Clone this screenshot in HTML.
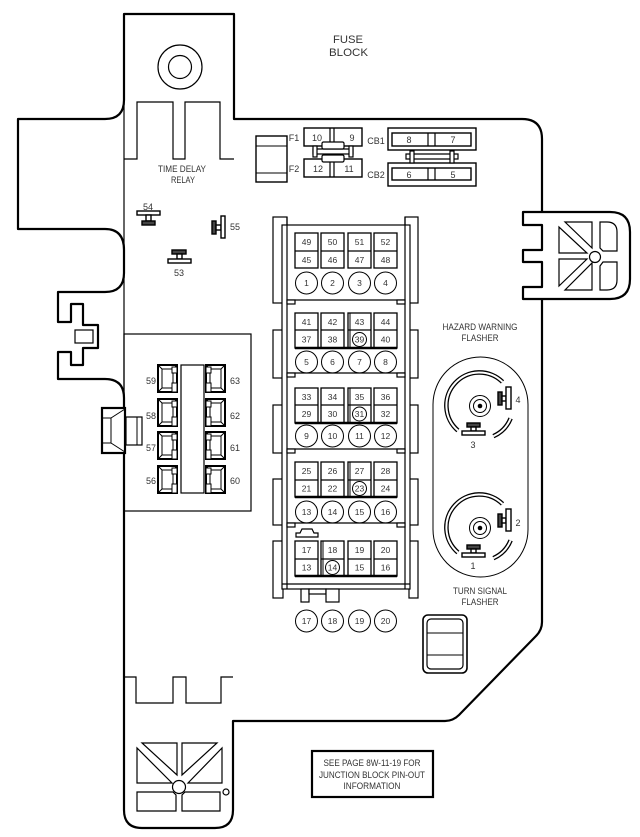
<!DOCTYPE html>
<html><head><meta charset="utf-8"><style>
html,body{margin:0;padding:0;background:#fff;}
svg{display:block;}
text{font-family:"Liberation Sans",sans-serif;fill:#333;}
</style></head><body>
<svg width="640" height="837" viewBox="0 0 640 837" xmlns="http://www.w3.org/2000/svg">
<defs>
<g id="sk" fill="#fff" stroke="#000">
<rect x="0" y="0" width="19" height="27" stroke-width="2"/>
<rect x="4" y="4" width="11" height="19" stroke-width="1"/>
<path d="M0,0L4,4M19,0L15,4M0,27L4,23M19,27L15,23" stroke-width="1"/>
</g>
<g id="skL"><use href="#sk"/><rect x="14" y="18" width="5" height="9" fill="#fff" stroke="#000" stroke-width="1"/><rect x="14" y="2" width="5" height="6" fill="#fff" stroke="#000" stroke-width="1"/></g>
<g id="skR"><use href="#sk"/><rect x="0" y="18" width="5" height="9" fill="#fff" stroke="#000" stroke-width="1"/><rect x="0" y="2" width="5" height="6" fill="#fff" stroke="#000" stroke-width="1"/></g>
</defs>

<!-- main heavy outline -->
<g fill="none" stroke="#000" stroke-width="2.2" stroke-linejoin="round">
<path d="M124,100 V14 H234 V119 H522 Q542,119 542,139 V212"/>
<path d="M542,299 V622 Q542,630 536,636 L459,715 Q453,721 445,721 H233 V810 Q233,828 215,828 H142 Q124,828 124,810 V398 Q124,379 105,379 H58 V352 H71 V365 H83 V348 H98 V325 H83 V304 H71 V322 H58 V292 H105 Q124,292 124,273 V250 Q124,229 105,229 H18 V119 H105 Q124,119 124,100"/>
<path d="M523,212 H610 Q630,212 630,232 V279 Q630,299 610,299 H523 V287 H542 V262 H523 V250 H542 V225 H523 Z"/>
</g>

<!-- thin structural lines -->
<g fill="none" stroke="#000" stroke-width="1.2">
<path d="M124,100 V398"/>
<path d="M124,159 H137 V102 H173 V159 H185 V102 H220 V159 H234"/>
<path d="M124,677 H136 V703 H173 V677 H186 V703 H221 V677 H233"/>
<circle cx="180" cy="67" r="22"/>
<circle cx="180" cy="67" r="11.5"/>
<rect x="75" y="330" width="18" height="13"/>
<path d="M565,222 H592 V248 Z"/>
<path d="M559,227 V253 H587 Z"/>
<path d="M559,259 H587 L559,286 Z"/>
<path d="M592,263 V290 H565 Z"/>
<path d="M600,222 H607 Q617,222 617,232 V251 H603 L600,248 Z"/>
<path d="M600,266 L603,262 H617 V280 Q617,290 607,290 H600 Z"/>
<circle cx="595" cy="257" r="5.5"/>
<path d="M142,743 H177 V775 Z"/>
<path d="M137,748 V783 H172 Z"/>
<path d="M182,743 H217 L182,775 Z"/>
<path d="M222,748 V783 H188 Z"/>
<path d="M137,792 H173 L176,795 V811 H137 Z"/>
<path d="M185,792 H220 V811 H182 V795 Z"/>
<circle cx="179" cy="787" r="6.5"/>
<circle cx="226" cy="792" r="3"/>
<rect x="124" y="334" width="127" height="177"/>
<rect x="181" y="365" width="23" height="128"/>
</g>

<!-- left connector -->
<g fill="#fff" stroke="#000">
<rect x="102" y="408" width="23" height="45" stroke-width="2.2"/>
<path d="M103,418 H111 V443 H103 M111,418 L125,409 M111,443 L125,452" fill="none" stroke-width="1"/>
<rect x="126" y="417" width="16" height="28" stroke-width="1.2"/>
<path d="M137,417 V445" stroke-width="1"/>
</g>

<!-- relay sockets -->
<use href="#skL" x="158" y="365"/>
<use href="#skL" x="158" y="399"/>
<use href="#skL" x="158" y="432"/>
<use href="#skL" x="158" y="466"/>
<use href="#skR" x="206" y="365"/>
<use href="#skR" x="206" y="399"/>
<use href="#skR" x="206" y="432"/>
<use href="#skR" x="206" y="466"/>
<g font-size="9" text-anchor="middle">
<text x="151" y="384">59</text><text x="151" y="419">58</text><text x="151" y="451">57</text><text x="151" y="484">56</text>
<text x="235" y="384">63</text><text x="235" y="419">62</text><text x="235" y="451">61</text><text x="235" y="484">60</text>
</g>

<!-- small relay symbols 54,55,53 -->
<g stroke="#000" stroke-width="1.4" fill="#fff">
<rect x="137" y="211" width="23" height="4"/>
<rect x="146" y="215" width="5" height="6"/>
<rect x="142" y="221" width="13" height="4" fill="#444"/>
<rect x="172" y="250" width="14" height="4" fill="#444"/>
<rect x="177" y="254" width="5" height="5"/>
<rect x="168" y="259" width="23" height="4"/>
<rect x="212" y="221" width="4" height="13" fill="#444"/>
<rect x="216" y="225" width="5" height="5"/>
<rect x="221" y="216" width="4" height="22"/>
</g>
<g font-size="9" text-anchor="middle">
<text x="148" y="210">54</text>
<text x="235" y="230">55</text>
<text x="179" y="276">53</text>
</g>

<!-- title texts -->
<g text-anchor="middle">
<text x="348" y="43" font-size="11" textLength="30" lengthAdjust="spacingAndGlyphs">FUSE</text>
<text x="348.5" y="56" font-size="11" textLength="39" lengthAdjust="spacingAndGlyphs">BLOCK</text>
<text x="182" y="172" font-size="9" textLength="48" lengthAdjust="spacingAndGlyphs">TIME DELAY</text>
<text x="183" y="183" font-size="9" textLength="24" lengthAdjust="spacingAndGlyphs">RELAY</text>
<text x="480" y="330" font-size="9" textLength="75" lengthAdjust="spacingAndGlyphs">HAZARD WARNING</text>
<text x="480" y="341" font-size="9" textLength="37" lengthAdjust="spacingAndGlyphs">FLASHER</text>
<text x="480" y="594" font-size="9" textLength="54" lengthAdjust="spacingAndGlyphs">TURN SIGNAL</text>
<text x="480" y="605" font-size="9" textLength="37" lengthAdjust="spacingAndGlyphs">FLASHER</text>
</g>

<!-- top fuses -->
<g fill="#fff" stroke="#000" stroke-width="1.4">
<rect x="256" y="136" width="31" height="46"/>
<path d="M256,146 H287 M256,173 H287" fill="none" stroke-width="1"/>
<rect x="304" y="128" width="58" height="18"/>
<rect x="304" y="159" width="58" height="18"/>
<path d="M330,128 V146 M334,128 V146 M330,159 V177 M334,159 V177" fill="none" stroke-width="1.2"/>
<path d="M313,149 H353 V154 H313 Z" stroke-width="1.2"/>
<rect x="313" y="146" width="4" height="11" stroke-width="1.2"/>
<rect x="349" y="146" width="4" height="11" stroke-width="1.2"/>
<rect x="322" y="142" width="22" height="7" rx="1.5" stroke-width="1.2"/>
<rect x="322" y="155" width="22" height="7" rx="1.5" stroke-width="1.2"/>
<rect x="388" y="128" width="88" height="22"/>
<rect x="392" y="133" width="79" height="13"/>
<rect x="388" y="163" width="88" height="23"/>
<rect x="392" y="168" width="79" height="12"/>
<path d="M428,133 V146 M435,133 V146 M428,168 V180 M435,168 V180" fill="none" stroke-width="1.2"/>
<path d="M406,154 H458 V159 H406 Z" stroke-width="1.2"/>
<rect x="410" y="151" width="4" height="12" stroke-width="1.2"/>
<rect x="450" y="151" width="4" height="12" stroke-width="1.2"/>
</g>
<g font-size="9" text-anchor="middle">
<text x="294" y="141">F1</text><text x="294" y="172">F2</text>
<text x="317" y="141">10</text><text x="352" y="141">9</text>
<text x="318" y="172">12</text><text x="349" y="172">11</text>
<text x="376" y="144">CB1</text><text x="376" y="178">CB2</text>
<text x="409" y="143">8</text><text x="453" y="143">7</text>
<text x="409" y="178">6</text><text x="453" y="178">5</text>
</g>

<!-- grid housing -->
<g fill="#fff" stroke="#000" stroke-width="1.2">
<rect x="273" y="217" width="14" height="86"/>
<rect x="273" y="330" width="10" height="48"/>
<rect x="273" y="405" width="10" height="48"/>
<rect x="273" y="479" width="10" height="46"/>
<rect x="273" y="541" width="10" height="57"/>
<rect x="405" y="217" width="13" height="86"/>
<rect x="409" y="330" width="9" height="48"/>
<rect x="409" y="405" width="9" height="48"/>
<rect x="409" y="479" width="9" height="46"/>
<rect x="409" y="541" width="9" height="57"/>
<rect x="282" y="225" width="128" height="364"/>
<path d="M287,217 V589 M405,217 V589 M282,584 H410" fill="none"/>
<path d="M287,300 H405 M287,373 H405 M287,449 H405 M287,523 H405" fill="none"/>
<rect x="287" y="300" width="8" height="4"/><rect x="397" y="300" width="8" height="4"/>
<rect x="287" y="373" width="8" height="4"/><rect x="397" y="373" width="8" height="4"/>
<rect x="287" y="449" width="8" height="4"/><rect x="397" y="449" width="8" height="4"/>
<rect x="287" y="523" width="8" height="4"/><rect x="397" y="523" width="8" height="4"/>
<path d="M296,537 V533 H300 L302,529 H312 L314,533 H318 V537 Z"/>
<rect x="301" y="589" width="8" height="13"/>
<rect x="309" y="589" width="17" height="5"/>
<rect x="326" y="589" width="13" height="13"/>
</g>

<!-- cells -->
<g fill="#fff" stroke="#000" stroke-width="1.3">
<rect x="295" y="233" width="23" height="35"/><rect x="321" y="233" width="23" height="35"/><rect x="348" y="233" width="23" height="35"/><rect x="374" y="233" width="23" height="35"/>
<path d="M295,251h23M321,251h23M348,251h23M374,251h23"/>
<rect x="295" y="313" width="23" height="35"/><rect x="321" y="313" width="23" height="35"/><rect x="348" y="313" width="23" height="35"/><rect x="374" y="313" width="23" height="35"/>
<path d="M295,330h23M321,330h23M348,330h23M374,330h23"/>
<rect x="295" y="388" width="23" height="35"/><rect x="321" y="388" width="23" height="35"/><rect x="348" y="388" width="23" height="35"/><rect x="374" y="388" width="23" height="35"/>
<path d="M295,405h23M321,405h23M348,405h23M374,405h23"/>
<rect x="295" y="462" width="23" height="35"/><rect x="321" y="462" width="23" height="35"/><rect x="348" y="462" width="23" height="35"/><rect x="374" y="462" width="23" height="35"/>
<path d="M295,480h23M321,480h23M348,480h23M374,480h23"/>
<rect x="295" y="541" width="23" height="35"/><rect x="321" y="541" width="23" height="35"/><rect x="348" y="541" width="23" height="35"/><rect x="374" y="541" width="23" height="35"/>
<path d="M295,559h23M321,559h23M348,559h23M374,559h23"/>
<path d="M295,348H397M295,423H397M295,497H397M295,576H397" stroke-width="2.6"/>
<path d="M350,313V348M350,388V423M350,462V497M323,541V576" stroke-width="1"/>
</g>
<g fill="none" stroke="#000" stroke-width="1">
<circle cx="306.5" cy="283" r="11"/><circle cx="332.5" cy="283" r="11"/><circle cx="359.5" cy="283" r="11"/><circle cx="385.5" cy="283" r="11"/>
<circle cx="306.5" cy="362" r="11"/><circle cx="332.5" cy="362" r="11"/><circle cx="359.5" cy="362" r="11"/><circle cx="385.5" cy="362" r="11"/>
<circle cx="306.5" cy="436" r="11"/><circle cx="332.5" cy="436" r="11"/><circle cx="359.5" cy="436" r="11"/><circle cx="385.5" cy="436" r="11"/>
<circle cx="306.5" cy="512" r="11"/><circle cx="332.5" cy="512" r="11"/><circle cx="359.5" cy="512" r="11"/><circle cx="385.5" cy="512" r="11"/>
<circle cx="306.5" cy="621" r="11"/><circle cx="332.5" cy="621" r="11"/><circle cx="359.5" cy="621" r="11"/><circle cx="385.5" cy="621" r="11"/>
<circle cx="359.5" cy="339.5" r="7"/>
<circle cx="359.5" cy="414" r="7"/>
<circle cx="359.5" cy="488.5" r="7"/>
<circle cx="332.5" cy="567.5" r="7"/>
</g>
<g font-size="8.5" text-anchor="middle">
<text x="306.5" y="245">49</text><text x="332.5" y="245">50</text><text x="359.5" y="245">51</text><text x="385.5" y="245">52</text>
<text x="306.5" y="263">45</text><text x="332.5" y="263">46</text><text x="359.5" y="263">47</text><text x="385.5" y="263">48</text>
<text x="306.5" y="286">1</text><text x="332.5" y="286">2</text><text x="359.5" y="286">3</text><text x="385.5" y="286">4</text>
<text x="306.5" y="325">41</text><text x="332.5" y="325">42</text><text x="359.5" y="325">43</text><text x="385.5" y="325">44</text>
<text x="306.5" y="342.5">37</text><text x="332.5" y="342.5">38</text><text x="359.5" y="342.5">39</text><text x="385.5" y="342.5">40</text>
<text x="306.5" y="365">5</text><text x="332.5" y="365">6</text><text x="359.5" y="365">7</text><text x="385.5" y="365">8</text>
<text x="306.5" y="400">33</text><text x="332.5" y="400">34</text><text x="359.5" y="400">35</text><text x="385.5" y="400">36</text>
<text x="306.5" y="417">29</text><text x="332.5" y="417">30</text><text x="359.5" y="417">31</text><text x="385.5" y="417">32</text>
<text x="306.5" y="439">9</text><text x="332.5" y="439">10</text><text x="359.5" y="439">11</text><text x="385.5" y="439">12</text>
<text x="306.5" y="474">25</text><text x="332.5" y="474">26</text><text x="359.5" y="474">27</text><text x="385.5" y="474">28</text>
<text x="306.5" y="491.5">21</text><text x="332.5" y="491.5">22</text><text x="359.5" y="491.5">23</text><text x="385.5" y="491.5">24</text>
<text x="306.5" y="515">13</text><text x="332.5" y="515">14</text><text x="359.5" y="515">15</text><text x="385.5" y="515">16</text>
<text x="306.5" y="553">17</text><text x="332.5" y="553">18</text><text x="359.5" y="553">19</text><text x="385.5" y="553">20</text>
<text x="306.5" y="570.5">13</text><text x="332.5" y="570.5">14</text><text x="359.5" y="570.5">15</text><text x="385.5" y="570.5">16</text>
<text x="306.5" y="624">17</text><text x="332.5" y="624">18</text><text x="359.5" y="624">19</text><text x="385.5" y="624">20</text>
</g>

<!-- flasher area -->
<rect x="433" y="357" width="95" height="220" rx="47.5" fill="none" stroke="#000" stroke-width="1"/>
<g fill="none" stroke="#000">
<path d="M502.5,381.9 A33,33 0 1 0 457.9,430.5" stroke-width="4.6"/>
<path d="M510.6,418.4 A33,33 0 0 1 493.4,436.2" stroke-width="4.6"/>
<path d="M502.5,503.9 A33,33 0 1 0 457.9,552.5" stroke-width="4.6"/>
<path d="M510.6,540.4 A33,33 0 0 1 493.4,558.2" stroke-width="4.6"/>
</g>
<g fill="none" stroke="#fff">
<path d="M502.5,381.9 A33,33 0 1 0 457.9,430.5" stroke-width="2"/>
<path d="M510.6,418.4 A33,33 0 0 1 493.4,436.2" stroke-width="2"/>
<path d="M502.5,503.9 A33,33 0 1 0 457.9,552.5" stroke-width="2"/>
<path d="M510.6,540.4 A33,33 0 0 1 493.4,558.2" stroke-width="2"/>
</g>
<g fill="none" stroke="#000" stroke-width="1">
<circle cx="480" cy="406" r="10.5"/><circle cx="480" cy="406" r="6.5"/>
<circle cx="480" cy="528" r="10.5"/><circle cx="480" cy="528" r="6.5"/>
</g>
<circle cx="480" cy="406" r="2.3" fill="#000"/>
<circle cx="480" cy="528" r="2.3" fill="#000"/>
<g stroke="#000" stroke-width="1.4" fill="#fff">
<rect x="498" y="392" width="4" height="13" fill="#444"/>
<rect x="502" y="396" width="4" height="5"/>
<rect x="506" y="387" width="5" height="22"/>
<rect x="467" y="423" width="13" height="4" fill="#444"/>
<rect x="471" y="427" width="5" height="4"/>
<rect x="462" y="431" width="23" height="4"/>
<rect x="498" y="514" width="4" height="13" fill="#444"/>
<rect x="502" y="518" width="4" height="5"/>
<rect x="506" y="509" width="5" height="22"/>
<rect x="467" y="545" width="13" height="4" fill="#444"/>
<rect x="471" y="549" width="5" height="4"/>
<rect x="462" y="553" width="23" height="4"/>
</g>
<g font-size="9" text-anchor="middle">
<text x="518" y="403">4</text>
<text x="473" y="448">3</text>
<text x="518" y="526">2</text>
<text x="473" y="569">1</text>
</g>

<!-- small switch -->
<g fill="none" stroke="#000">
<rect x="423" y="615" width="44" height="58" rx="5" stroke-width="1.6"/>
<rect x="427" y="619" width="36" height="50" rx="4" stroke-width="1.2"/>
<path d="M427,633 H463 M427,655 H463" stroke-width="1"/>
</g>

<!-- note box -->
<rect x="312" y="751" width="121" height="46" fill="none" stroke="#000" stroke-width="2.2"/>
<g font-size="9" text-anchor="middle">
<text x="372" y="766" textLength="97" lengthAdjust="spacingAndGlyphs">SEE PAGE 8W-11-19 FOR</text>
<text x="372" y="778" textLength="106" lengthAdjust="spacingAndGlyphs">JUNCTION BLOCK PIN-OUT</text>
<text x="372" y="789" textLength="57" lengthAdjust="spacingAndGlyphs">INFORMATION</text>
</g>
</svg>
</body></html>
